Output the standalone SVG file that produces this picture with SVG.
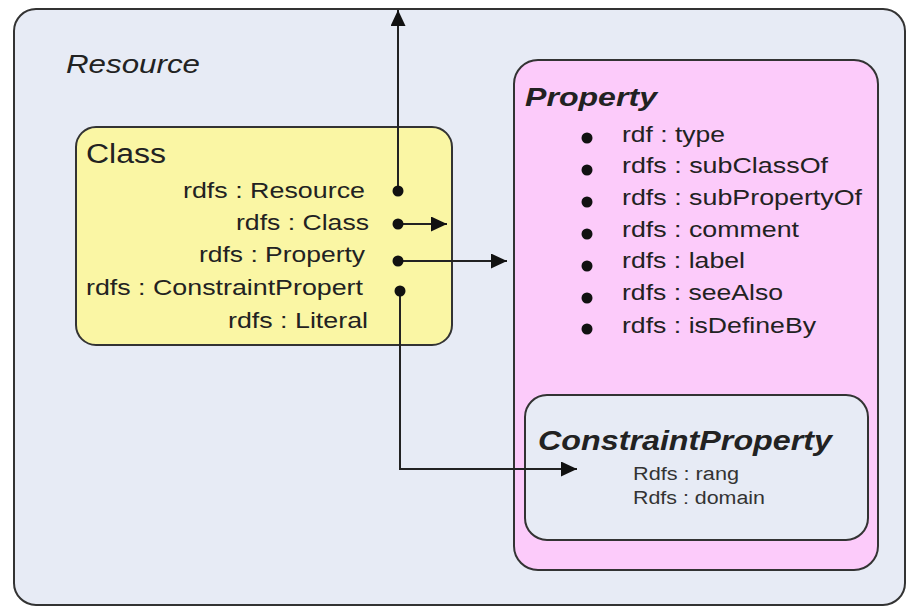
<svg xmlns="http://www.w3.org/2000/svg" width="909" height="608" viewBox="0 0 909 608">
  <style>
    text { font-family: "Liberation Sans", Arial, sans-serif; fill: #222; }
    .box { stroke: #333; stroke-width: 2; }
    .item { font-size: 22px; }
    .small { font-size: 18px; fill: #333; }
    .conn { fill: none; stroke: #222; stroke-width: 2; }
    .dot { fill: #111; }
    .bullet { fill: #111; }
  </style>
  <defs>
    <marker id="arrow" viewBox="0 0 16 15" refX="16" refY="7.5" markerWidth="16" markerHeight="15" markerUnits="userSpaceOnUse" orient="auto">
      <path d="M0,0 L16,7.5 L0,15 z" fill="#111"/>
    </marker>
  </defs>
  <rect width="909" height="608" fill="#ffffff"/>

  <g id="resource">
    <rect class="box" x="14" y="9" width="891" height="596" rx="22" ry="22" fill="#e7ebf5"/>
    <text x="66" y="73" font-size="25" font-style="italic" fill="#333" textLength="134" lengthAdjust="spacingAndGlyphs">Resource</text>
  </g>

  <g id="class">
    <rect class="box" x="76" y="127" width="376" height="218" rx="20" ry="20" fill="#faf6a4"/>
    <text x="86" y="163" font-size="27" textLength="80" lengthAdjust="spacingAndGlyphs">Class</text>
    <text class="item" x="183" y="198" textLength="182" lengthAdjust="spacingAndGlyphs">rdfs : Resource</text>
    <text class="item" x="236" y="230" textLength="133" lengthAdjust="spacingAndGlyphs">rdfs : Class</text>
    <text class="item" x="199" y="262" textLength="166" lengthAdjust="spacingAndGlyphs">rdfs : Property</text>
    <text class="item" x="86" y="295" textLength="277" lengthAdjust="spacingAndGlyphs">rdfs : ConstraintPropert</text>
    <text class="item" x="228" y="328" textLength="140" lengthAdjust="spacingAndGlyphs">rdfs : Literal</text>
  </g>

  <g id="property">
    <rect class="box" x="514" y="60" width="364" height="510" rx="24" ry="24" fill="#fccbfa"/>
    <text x="525" y="106" font-size="26" font-weight="bold" font-style="italic" textLength="132" lengthAdjust="spacingAndGlyphs">Property</text>
    <circle class="bullet" cx="587" cy="138" r="5.5"/>
    <circle class="bullet" cx="587" cy="170" r="5.5"/>
    <circle class="bullet" cx="587" cy="202" r="5.5"/>
    <circle class="bullet" cx="587" cy="234" r="5.5"/>
    <circle class="bullet" cx="587" cy="266" r="5.5"/>
    <circle class="bullet" cx="587" cy="298" r="5.5"/>
    <circle class="bullet" cx="587" cy="329" r="5.5"/>
    <text class="item" x="622" y="142" textLength="103" lengthAdjust="spacingAndGlyphs">rdf : type</text>
    <text class="item" x="622" y="173" textLength="206" lengthAdjust="spacingAndGlyphs">rdfs : subClassOf</text>
    <text class="item" x="622" y="205" textLength="240" lengthAdjust="spacingAndGlyphs">rdfs : subPropertyOf</text>
    <text class="item" x="622" y="237" textLength="177" lengthAdjust="spacingAndGlyphs">rdfs : comment</text>
    <text class="item" x="622" y="268" textLength="123" lengthAdjust="spacingAndGlyphs">rdfs : label</text>
    <text class="item" x="622" y="300" textLength="161" lengthAdjust="spacingAndGlyphs">rdfs : seeAlso</text>
    <text class="item" x="622" y="333" textLength="194" lengthAdjust="spacingAndGlyphs">rdfs : isDefineBy</text>
  </g>

  <g id="constraintProperty">
    <rect class="box" x="525" y="395" width="343" height="145" rx="22" ry="22" fill="#e7ebf5"/>
    <text x="538" y="450" font-size="27" font-weight="bold" font-style="italic" textLength="294" lengthAdjust="spacingAndGlyphs">ConstraintProperty</text>
    <text class="small" x="633" y="480" textLength="106" lengthAdjust="spacingAndGlyphs">Rdfs : rang</text>
    <text class="small" x="633" y="504" textLength="132" lengthAdjust="spacingAndGlyphs">Rdfs : domain</text>
  </g>

  <g id="connectors">
    <path class="conn" d="M398,191 V10" marker-end="url(#arrow)"/>
    <path class="conn" d="M398,224 H447" marker-end="url(#arrow)"/>
    <path class="conn" d="M398,261 H507" marker-end="url(#arrow)"/>
    <path class="conn" d="M400,291 V469 H577" marker-end="url(#arrow)"/>
    <circle class="dot" cx="398" cy="191" r="5.5"/>
    <circle class="dot" cx="398" cy="224" r="5.5"/>
    <circle class="dot" cx="398" cy="261" r="5.5"/>
    <circle class="dot" cx="400" cy="291" r="5.5"/>
  </g>
</svg>
